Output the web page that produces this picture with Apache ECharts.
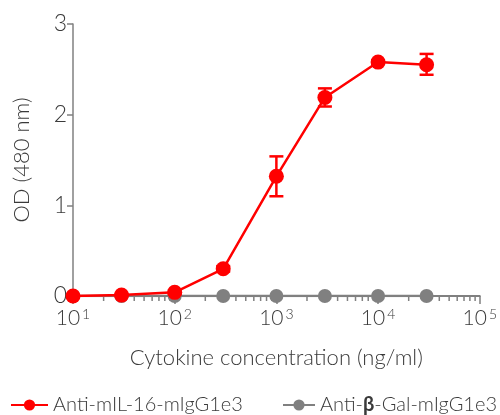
<!DOCTYPE html>
<html>
<head>
<meta charset="utf-8">
<script src="https://cdn.jsdelivr.net/npm/echarts@6/dist/echarts.min.js"></script>
<style>
  html, body { margin: 0; padding: 0; background: #fff; }
  #chart { width: 500px; height: 415px; }
</style>
</head>
<body>
<div id="chart"></div>
<script>
// 浓度 (ng/ml)
var concentrations = [10, 30, 100, 300, 1000, 3000, 10000, 30000];
// 两条曲线的 OD 值
var odSpecific = [0.0, 0.01, 0.04, 0.30, 1.32, 2.19, 2.58, 2.55];
var odControl = [0, 0, 0, 0, 0, 0, 0, 0];
// 误差棒 [低, 高]
var errSpecific = [[0, 0], [0, 0.02], [0.02, 0.06], [0.27, 0.33], [1.10, 1.54], [2.09, 2.29], [2.56, 2.60], [2.44, 2.67]];
// 对数轴次刻度
var minorTicks = [20, 30, 40, 50, 60, 70, 80, 90,
    200, 300, 400, 500, 600, 700, 800, 900,
    2000, 3000, 4000, 5000, 6000, 7000, 8000, 9000,
    20000, 30000, 40000, 50000, 60000, 70000, 80000, 90000];

var seriesNames = ['Anti-mIL-16-mIgG1e3', 'Anti-β-Gal-mIgG1e3'];
var red = '#ff0000';
var grey = '#808080';
var textColor = '#3a3a3a';
var font = 'Lato';

var chart = echarts.init(document.getElementById('chart'));

function pairs(ys) {
    return concentrations.map(function (x, i) { return [x, ys[i]]; });
}

var option = {
    animation: false,
    textStyle: { fontFamily: font },
    grid: { left: 73, right: 19, top: 24, bottom: 119 },
    legend: [{
        data: [seriesNames[0]],
        left: 5, top: 390,
        itemWidth: 37, itemHeight: 14,
        textStyle: { fontSize: 20, color: textColor, fontFamily: font, fontWeight: 300 }
    }, {
        data: [seriesNames[1]],
        left: 277, top: 390,
        itemWidth: 32, itemHeight: 14,
        formatter: function () { return '{a|Anti-}{b|β}{a|-Gal-mIgG1e3}'; },
        textStyle: {
            fontSize: 20, color: textColor, fontFamily: font,
            rich: {
                a: { fontSize: 20, color: textColor, fontFamily: font, fontWeight: 300 },
                b: { fontSize: 20, color: textColor, fontFamily: font, fontWeight: 'bold' }
            }
        }
    }],
    xAxis: {
        type: 'log',
        logBase: 10,
        min: 10,
        max: 100000,
        name: 'Cytokine concentration (ng/ml)',
        nameLocation: 'middle',
        nameGap: 51,
        nameTextStyle: { fontSize: 22, color: textColor, fontFamily: font, fontWeight: 300 },
        axisLine: { lineStyle: { color: grey, width: 2 } },
        axisTick: { length: 8, lineStyle: { color: grey, width: 1.5 } },
        splitLine: { show: false },
        axisLabel: {
            margin: 11,
            formatter: function (v) {
                return '{b|10}{s|' + Math.round(Math.log10(v)) + '}';
            },
            rich: {
                b: { fontSize: 21, color: textColor, fontFamily: font, fontWeight: 300 },
                s: { fontSize: 14, color: textColor, fontFamily: font, fontWeight: 300, verticalAlign: 'top', padding: [0, 0, 9, 2] }
            }
        }
    },
    yAxis: {
        type: 'value',
        min: 0,
        max: 3,
        interval: 1,
        name: 'OD (480 nm)',
        nameLocation: 'middle',
        nameGap: 40,
        nameTextStyle: { fontSize: 22, color: textColor, fontFamily: font, fontWeight: 300 },
        axisLine: { show: true, lineStyle: { color: grey, width: 1.5 } },
        axisTick: { show: true, length: 6, lineStyle: { color: grey, width: 1.5 } },
        splitLine: { show: false },
        axisLabel: { fontSize: 23, color: textColor, fontWeight: 300, margin: 6 }
    },
    series: [{
        // 次刻度
        type: 'custom',
        silent: true,
        z: 1,
        data: minorTicks,
        encode: { x: 0 },
        renderItem: function (params, api) {
            var p = api.coord([api.value(0), 0]);
            return {
                type: 'line',
                shape: { x1: p[0], y1: p[1], x2: p[0], y2: p[1] + 5 },
                style: { stroke: grey, lineWidth: 1.5 }
            };
        }
    }, {
        name: seriesNames[1],
        type: 'line',
        data: pairs(odControl),
        symbol: 'circle',
        symbolSize: 14,
        z: 3,
        itemStyle: { color: grey },
        lineStyle: { color: grey, width: 2.5 }
    }, {
        // 误差棒
        type: 'custom',
        silent: true,
        z: 4,
        data: concentrations.map(function (x, i) { return [x, errSpecific[i][0], errSpecific[i][1]]; }),
        encode: { x: 0, y: [1, 2] },
        renderItem: function (params, api) {
            var lo = api.coord([api.value(0), api.value(1)]);
            var hi = api.coord([api.value(0), api.value(2)]);
            var w = 7;
            var st = { stroke: red, lineWidth: 2.5 };
            return {
                type: 'group',
                children: [
                    { type: 'line', shape: { x1: lo[0], y1: lo[1], x2: hi[0], y2: hi[1] }, style: st },
                    { type: 'line', shape: { x1: hi[0] - w, y1: hi[1], x2: hi[0] + w, y2: hi[1] }, style: st },
                    { type: 'line', shape: { x1: lo[0] - w, y1: lo[1], x2: lo[0] + w, y2: lo[1] }, style: st }
                ]
            };
        }
    }, {
        name: seriesNames[0],
        type: 'line',
        data: pairs(odSpecific),
        symbol: 'circle',
        symbolSize: 15,
        z: 5,
        itemStyle: { color: red },
        lineStyle: { color: red, width: 2.5 }
    }]
};

chart.setOption(option);
</script>
</body>
</html>
